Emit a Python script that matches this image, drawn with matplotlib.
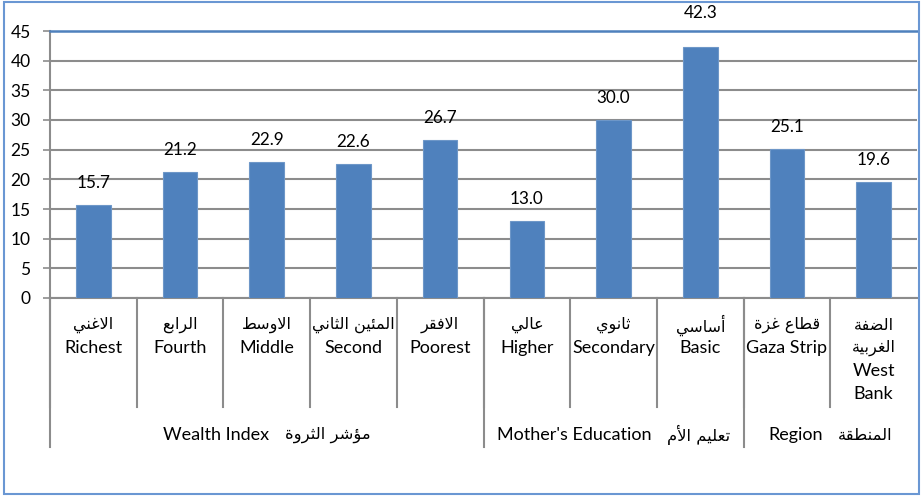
import numpy as np
import matplotlib
matplotlib.use('Agg')
import matplotlib.pyplot as plt
import matplotlib.transforms as mtransforms
from matplotlib.patches import Rectangle

# ---- data ----
labels_en = ['Richest', 'Fourth', 'Middle', 'Second', 'Poorest',
             'Higher', 'Secondary', 'Basic', 'Gaza Strip', 'West\nBank']
labels_ar = ['الاغني', 'الرابع', 'الاوسط', 'المئين الثاني', 'الافقر',
             'عالي', 'ثانوي', 'أساسي', 'قطاع غزة', 'الضفة\nالغربية']
values = [15.7, 21.2, 22.9, 22.6, 26.7, 13.0, 30.0, 42.3, 25.1, 19.6]
group_en = ['Wealth Index', "Mother's Education", 'Region']
group_ar = ['مؤشر الثروة', 'تعليم الأم', 'المنطقة']
group_size = [5, 3, 2]

# ---- tiny arabic shaper (presentation forms + right-to-left order) ----
# letter: (isolated, final, initial, medial)
FORMS = {
    'ا': (0xFE8D, 0xFE8E, None, None), 'أ': (0xFE83, 0xFE84, None, None),
    'ؤ': (0xFE85, 0xFE86, None, None), 'ئ': (0xFE89, 0xFE8A, 0xFE8B, 0xFE8C),
    'ب': (0xFE8F, 0xFE90, 0xFE91, 0xFE92), 'ة': (0xFE93, 0xFE94, None, None),
    'ت': (0xFE95, 0xFE96, 0xFE97, 0xFE98), 'ث': (0xFE99, 0xFE9A, 0xFE9B, 0xFE9C),
    'د': (0xFEA9, 0xFEAA, None, None), 'ر': (0xFEAD, 0xFEAE, None, None),
    'ز': (0xFEAF, 0xFEB0, None, None), 'س': (0xFEB1, 0xFEB2, 0xFEB3, 0xFEB4),
    'ش': (0xFEB5, 0xFEB6, 0xFEB7, 0xFEB8), 'ض': (0xFEBD, 0xFEBE, 0xFEBF, 0xFEC0),
    'ط': (0xFEC1, 0xFEC2, 0xFEC3, 0xFEC4), 'ع': (0xFEC9, 0xFECA, 0xFECB, 0xFECC),
    'غ': (0xFECD, 0xFECE, 0xFECF, 0xFED0), 'ف': (0xFED1, 0xFED2, 0xFED3, 0xFED4),
    'ق': (0xFED5, 0xFED6, 0xFED7, 0xFED8), 'ل': (0xFEDD, 0xFEDE, 0xFEDF, 0xFEE0),
    'م': (0xFEE1, 0xFEE2, 0xFEE3, 0xFEE4), 'ن': (0xFEE5, 0xFEE6, 0xFEE7, 0xFEE8),
    'ه': (0xFEE9, 0xFEEA, 0xFEEB, 0xFEEC), 'و': (0xFEED, 0xFEEE, None, None),
    'ي': (0xFEF1, 0xFEF2, 0xFEF3, 0xFEF4),
}
LAMALEF = {'ا': (0xFEFB, 0xFEFC), 'أ': (0xFEF7, 0xFEF8)}


def shape(word):
    res = []
    i = 0
    n = len(word)
    while i < n:
        c = word[i]
        if c not in FORMS:
            res.append(c)
            i += 1
            continue
        prev = word[i-1] if i > 0 else None
        join_prev = prev in FORMS and FORMS[prev][2] is not None
        if c == 'ل' and i + 1 < n and word[i+1] in LAMALEF:
            iso, fin = LAMALEF[word[i+1]]
            res.append(chr(fin if join_prev else iso))
            i += 2
            continue
        nxt = word[i+1] if i + 1 < n else None
        join_next = FORMS[c][2] is not None and nxt in FORMS
        iso, fin, ini, med = FORMS[c]
        if join_prev and join_next:
            g = med
        elif join_prev:
            g = fin
        elif join_next:
            g = ini
        else:
            g = iso
        res.append(chr(g))
        i += 1
    return ''.join(reversed(res))


FONT = ['Lato', 'DejaVu Sans']
plt.rcParams['font.family'] = FONT
plt.rcParams['font.size'] = 12

W, H = 922, 496
fig = plt.figure(figsize=(W/100, H/100), dpi=100)
ax = fig.add_axes([50/W, 1 - 298/H, 867/W, 267/H])

x = np.arange(len(values))
ax.bar(x, values, width=0.4, color='#4F81BD', edgecolor='#6E97C8', linewidth=0.8, zorder=3)

ax.set_xlim(-0.5, len(values) - 0.5)
ax.set_ylim(0, 45)
ax.set_yticks(np.arange(0, 46, 5))
ax.yaxis.grid(True, color='#8C8C8C', linewidth=1.5, zorder=0)
ax.set_xticks([])
ax.tick_params(axis='y', length=5, width=1.2, color='#8C8C8C', pad=9, labelsize=12.5)
ax.spines['right'].set_visible(False)
ax.spines['top'].set_color('#4F81BD')
ax.spines['top'].set_linewidth(1.8)
for s in ['left', 'bottom']:
    ax.spines[s].set_color('#8C8C8C')
    ax.spines[s].set_linewidth(1.5)

# value labels
for xi, v in zip(x, values):
    off = 10 if v < 40 else 19
    ax.annotate('%.1f' % v, (xi, v), xytext=(0, off), textcoords='offset points',
                ha='center', va='bottom', fontsize=12.3)

# multi level category axis
trans = mtransforms.blended_transform_factory(ax.transData, ax.transAxes)
ppx = 1 / 267.0
for b in np.arange(-0.5, len(values) - 0.6, 1.0):
    ax.plot([b, b], [0, -109*ppx], color='#8C8C8C', lw=1.5, transform=trans, clip_on=False)

renderer = fig.canvas.get_renderer()
starts = np.cumsum([0] + group_size)
for k in range(len(group_size)):
    b = starts[k] - 0.5
    ax.plot([b, b], [0, -149*ppx], color='#8C8C8C', lw=1.5, transform=trans, clip_on=False)
    c = (starts[k] + starts[k+1] - 1) / 2.0
    cx = ax.transData.transform((c, 0))[0]
    t_en = ax.text(0, 0, group_en[k], ha='right', va='center', fontsize=13,
                   transform=None)
    t_ar = ax.text(0, 0, shape(group_ar[k]), ha='left', va='center', fontsize=11.8,
                   family='DejaVu Sans', transform=None)
    w_en = t_en.get_window_extent(renderer).width
    w_ar = t_ar.get_window_extent(renderer).width
    gap = 15
    left = cx - (w_en + gap + w_ar) / 2.0
    ypix = ax.transAxes.transform((0, -137*ppx))[1]
    t_en.set_position((left + w_en, ypix))
    t_ar.set_position((left + w_en + gap, ypix))

for xi in x:
    ar_lines = [shape(s) for s in labels_ar[xi].split('\n')]
    en_lines = labels_en[xi].split('\n')
    j = 0
    for line in ar_lines:
        ax.text(xi, -(27 + 23*j)*ppx, line, transform=trans, ha='center', va='center',
                fontsize=11.5, family='DejaVu Sans')
        j += 1
    for line in en_lines:
        ax.text(xi, -(27 + 23*j)*ppx, line, transform=trans, ha='center', va='center',
                fontsize=13)
        j += 1

# outer chart border
fig.patches.append(Rectangle((4/W, 2/H), 915/W, 492/H, transform=fig.transFigure,
                             fill=False, edgecolor='#6A97D3', linewidth=1.5))

plt.savefig('out.png', dpi=100)
